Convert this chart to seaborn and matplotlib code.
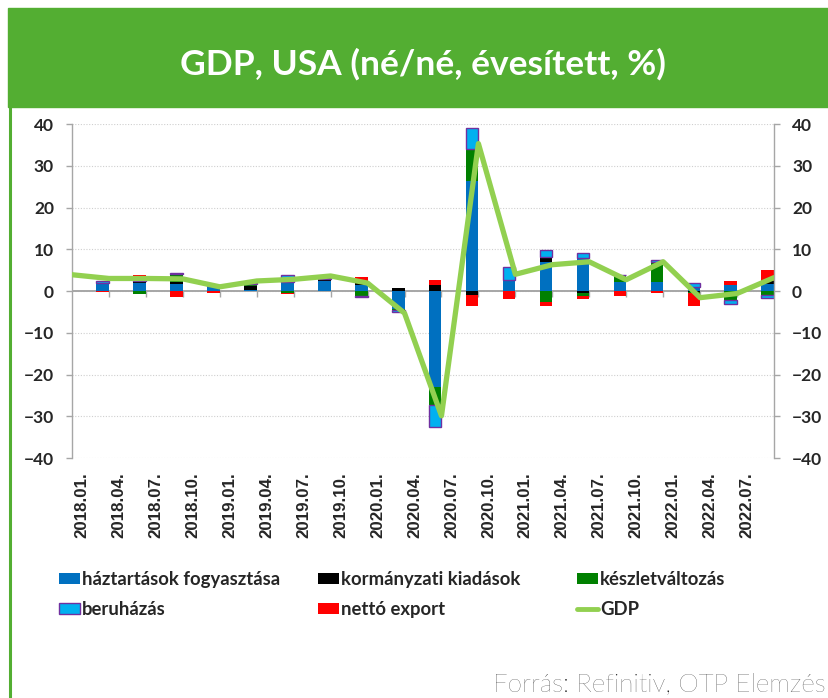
import matplotlib
matplotlib.use("Agg")
import matplotlib.pyplot as plt
import seaborn as sns
import numpy as np
from matplotlib.patches import Rectangle, Patch
from matplotlib.lines import Line2D

# negyedévek (2018Q1 - 2022Q3)
quarters = ["2018.01.", "2018.04.", "2018.07.", "2018.10.",
            "2019.01.", "2019.04.", "2019.07.", "2019.10.",
            "2020.01.", "2020.04.", "2020.07.", "2020.10.",
            "2021.01.", "2021.04.", "2021.07.", "2021.10.",
            "2022.01.", "2022.04.", "2022.07."]

# hozzájárulások (százalékpont)
hh    = [2.0, 2.0, 1.7, 1.2, 0.25, 1.85, 2.4, 1.45, -4.4, -23.0, 26.4, 2.6, 7.0, 7.9, 2.25, 2.2, 1.0, 1.4, 1.7]
gov   = [0.0, 0.4, 0.5, 0.0, 0.95, 0.4, 0.4, 0.55, 0.6, 1.5, -1.0, -0.1, 1.2, -0.4, 0.0, -0.1, -0.2, -0.1, 0.6]
stock = [0.0, -0.8, 1.9, 0.1, 0.4, -0.4, -0.1, -1.1, -0.2, -4.4, 7.7, 0.0, -2.6, -0.7, 1.6, 4.8, -0.2, -2.1, -1.0]
inv   = [0.4, 1.0, 0.3, 0.2, 0.25, 1.6, 0.4, -0.4, -0.5, -5.2, 5.0, 3.1, 1.7, 1.2, 0.0, 0.4, 1.0, -0.9, -0.6]
net   = [-0.2, 0.4, -1.4, -0.5, 0.0, -0.4, 0.0, 1.3, 0.0, 1.1, -2.6, -1.8, -1.0, -0.7, -1.2, -0.3, -3.2, 1.1, 2.7]

# GDP (2017Q4 - 2022Q3)
gdp = [3.9, 3.0, 3.0, 2.9, 1.0, 2.4, 2.8, 3.6, 1.9, -5.3, -29.9, 35.3, 4.0, 6.3, 7.0, 2.7, 7.0, -1.6, -0.6, 3.2]

components = [
    ("háztartások fogyasztása", hh, "#0070C0", None),
    ("kormányzati kiadások", gov, "#000000", None),
    ("készletváltozás", stock, "#008000", None),
    ("beruházás", inv, "#00B0F0", "#7030A0"),
    ("nettó export", net, "#FF0000", None),
]

sns.set_theme(style="white")

W, H = 829, 698
fig = plt.figure(figsize=(W / 100, H / 100), dpi=100)
fig.patch.set_facecolor("white")


def fx(px):
    return px / W


def fy(py):
    return 1 - py / H


green = "#53AE32"
# fejléc
fig.add_artist(Rectangle((fx(8), fy(107)), 1 - fx(8), (107 - 8) / H,
                         transform=fig.transFigure, color=green, zorder=0))
fig.add_artist(Line2D([fx(10), fx(10)], [0, fy(107)], transform=fig.transFigure,
                      color=green, lw=2.2))
fig.text(fx(423), fy(64), "GDP, USA (né/né, évesített, %)", color="white",
         fontsize=25.5, fontweight="bold", family=["Lato", "DejaVu Sans"],
         ha="center", va="center")

ax = fig.add_axes([fx(72), fy(458), (774 - 72) / W, (458 - 124) / H])

n = len(quarters)
x_bar = np.arange(n) + 0.83
pos_base = np.zeros(n)
neg_base = np.zeros(n)
for name, vals, color, edge in components:
    v = np.array(vals, dtype=float)
    bottom = np.where(v >= 0, pos_base, neg_base)
    ax.bar(x_bar, v, width=0.34, bottom=bottom, color=color,
           edgecolor=edge if edge else color, linewidth=1.0 if edge else 0,
           zorder=2)
    pos_base += np.clip(v, 0, None)
    neg_base += np.clip(v, None, 0)

sns.lineplot(x=np.arange(len(gdp)), y=gdp, color="#92D050", linewidth=3.8,
             ax=ax, zorder=3)

ax.set_xlim(0, n)
ax.set_ylim(-40, 40)
ax.set_yticks(range(-40, 41, 10))
ax.yaxis.grid(True, color="#CFCFCF", linestyle=(0, (1, 1.5)), linewidth=0.8)
ax.set_axisbelow(True)
ax.axhline(0, color="#A6A6A6", lw=1.4, zorder=1.5)
ax.vlines(np.arange(1, n), -1.55, 0, color="#A6A6A6", lw=1, zorder=1.5)

for side in ["top", "bottom"]:
    ax.spines[side].set_visible(False)
for side in ["left", "right"]:
    ax.spines[side].set_color("#A6A6A6")
    ax.spines[side].set_linewidth(1)

ax.tick_params(axis="y", left=True, right=True, labelleft=True, labelright=True,
               length=4, width=1, color="#A6A6A6", pad=9, direction="out")
for t in ax.yaxis.get_major_ticks():
    for lab in (t.label1, t.label2):
        lab.set_fontfamily(["Lato", "DejaVu Sans"])
        lab.set_fontweight("bold")
        lab.set_fontsize(12.5)

ax.set_xticks(np.arange(n) + 0.27, quarters, rotation=90)
ax.tick_params(axis="x", length=0, pad=10)
for lab in ax.get_xticklabels():
    lab.set_fontfamily(["Liberation Sans", "DejaVu Sans"])
    lab.set_fontweight("bold")
    lab.set_fontsize(12.2)
ax.set_xlabel("")
ax.set_ylabel("")

# jelmagyarázat, három oszlopban
handles = {name: Patch(facecolor=c, edgecolor=e if e else c, linewidth=1.0 if e else 0)
           for name, _, c, e in components}
handles["GDP"] = Line2D([0], [0], color="#92D050", lw=3.5)
columns = [
    (59, ["háztartások fogyasztása", "beruházás"]),
    (318, ["kormányzati kiadások", "nettó export"]),
    (577, ["készletváltozás", "GDP"]),
]
for xpos, names in columns:
    fig.legend([handles[k] for k in names], names, loc="upper left",
               bbox_to_anchor=(fx(xpos), fy(571)), frameon=False,
               borderpad=0, borderaxespad=0, handlelength=1.15,
               handleheight=0.55, handletextpad=0.1, labelspacing=0.7,
               prop=dict(family=["Lato", "DejaVu Sans"], weight="bold", size=13.3))

fig.text(fx(826), fy(692), "Forrás: Refinitiv, OTP Elemzés", color="#1E1E1E",
         fontsize=18.7, fontweight="light", family=["Lato", "DejaVu Sans"],
         ha="right", va="baseline")

fig.savefig("out.png", dpi=100, facecolor="white")
